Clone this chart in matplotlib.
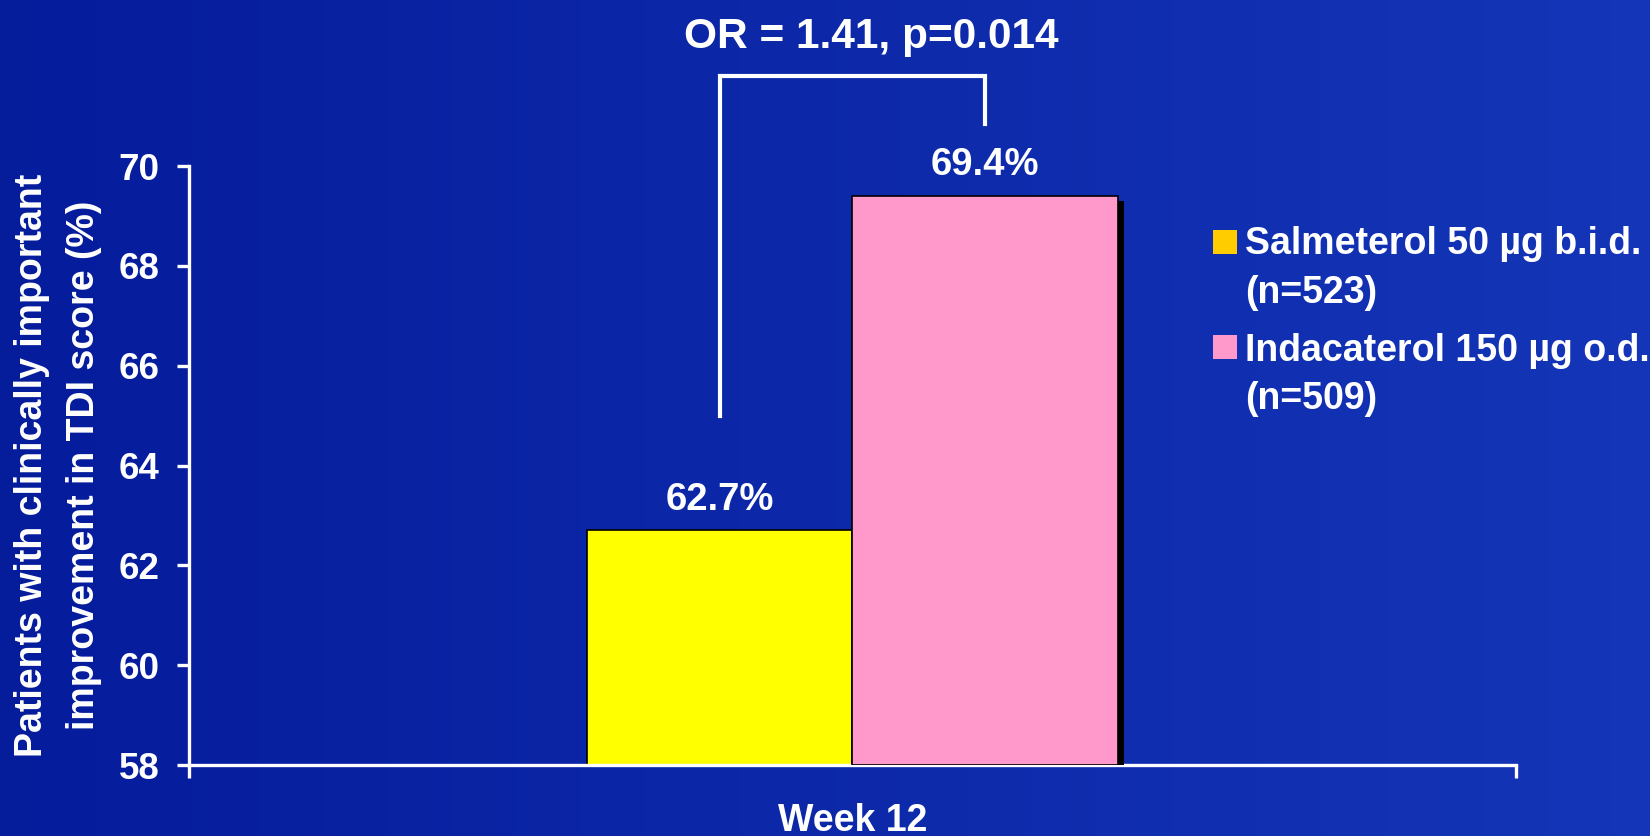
import matplotlib.pyplot as plt
import matplotlib.patheffects as pe
from matplotlib.patches import Rectangle
import numpy as np

plt.rcParams['font.family'] = ['Liberation Sans', 'DejaVu Sans']
plt.rcParams['font.weight'] = 'bold'

# data
groups = ['Week 12']
treatments = ['Salmeterol 50 µg b.i.d.\n(n=523)', 'Indacaterol 150 µg o.d.\n(n=509)']
values = [62.7, 69.4]
bar_colors = ['#FFFF00', '#FF99CC']
legend_colors = ['#FFCC00', '#FF99CC']
stat_text = 'OR = 1.41, p=0.014'
bracket_y = [65.0, 71.8, 70.85]   # left foot, top, right foot
yticks = [58, 60, 62, 64, 66, 68, 70]

fig = plt.figure(figsize=(16.5, 8.36), dpi=100)

# blue gradient behind everything
bg = fig.add_axes([0, 0, 1, 1], zorder=-10)
grad = np.linspace(0, 1, 256).reshape(1, -1)
c0 = np.array([0.02, 0.11, 0.61])
c1 = np.array([0.08, 0.21, 0.72])
img = c0 + (c1 - c0) * grad[..., None]
bg.imshow(img, aspect='auto', extent=[0, 1, 0, 1])
bg.axis('off')

ax = fig.add_axes([0.1145, 0.0849, 0.8043, 0.7165])
ax.patch.set_alpha(0)

width = 0.2
offsets = [-0.1, 0.1]
shadow = [pe.SimplePatchShadow(offset=(4.5, -3.5), shadow_rgbFace='k', alpha=1.0), pe.Normal()]
for i, v in enumerate(values):
    b = ax.bar(offsets[i], v - yticks[0], width, bottom=yticks[0], color=bar_colors[i],
               edgecolor='k', linewidth=1.2, zorder=2 + i)
    b[0].set_path_effects(shadow)
    ax.annotate(f'{v}%', (offsets[i], v), xytext=(0, 15), textcoords='offset points',
                ha='center', va='baseline', color='white', fontsize=27.5, fontweight='bold')

# significance bracket
ax.plot([offsets[0], offsets[0], offsets[1], offsets[1]],
        [bracket_y[0], bracket_y[1], bracket_y[1], bracket_y[2]],
        color='white', lw=3, clip_on=False, solid_joinstyle='miter', zorder=5)
fig.text(0.528, 0.943, stat_text, ha='center', va='baseline', color='white',
         fontsize=30.5, fontweight='bold')

ax.set_xlim(-0.5, 0.5)
ax.set_ylim(58, 70)
ax.set_yticks(yticks)
ax.set_xticks([0])
ax.set_xticklabels(groups)
ax.set_xticks([-0.5, 0.5], minor=True)
for s in ['top', 'right']:
    ax.spines[s].set_visible(False)
for s in ['left', 'bottom']:
    ax.spines[s].set_color('white')
    ax.spines[s].set_linewidth(2.4)
ax.tick_params(axis='y', colors='white', length=9, width=2.4, pad=12, labelsize=26.5)
ax.tick_params(axis='x', which='major', colors='white', length=0, pad=27, labelsize=27)
ax.tick_params(axis='x', which='minor', colors='white', length=9, width=2.4)

ax.set_ylabel('Patients with clinically important\nimprovement in TDI score (%)',
              color='white', fontsize=27, fontweight='bold', linespacing=1.57,
              ha='center', va='center', rotation_mode='default')
ax.yaxis.set_label_coords(-0.0987, 0.5)

# legend drawn by hand: square aligned with first line of each entry
legend_y = [0.679, 0.5516]
square_y = [0.6967, 0.5708]
for lab, col, y, sy in zip(treatments, legend_colors, legend_y, square_y):
    fig.patches.append(Rectangle((0.7352, sy), 0.0145, 0.0287, transform=fig.transFigure,
                                 facecolor=col, edgecolor='none'))
    fig.text(0.7545, y, lab, ha='left', va='center', color='white', fontsize=27,
             fontweight='bold', linespacing=1.45)

fig.savefig('out.png', dpi=100)
